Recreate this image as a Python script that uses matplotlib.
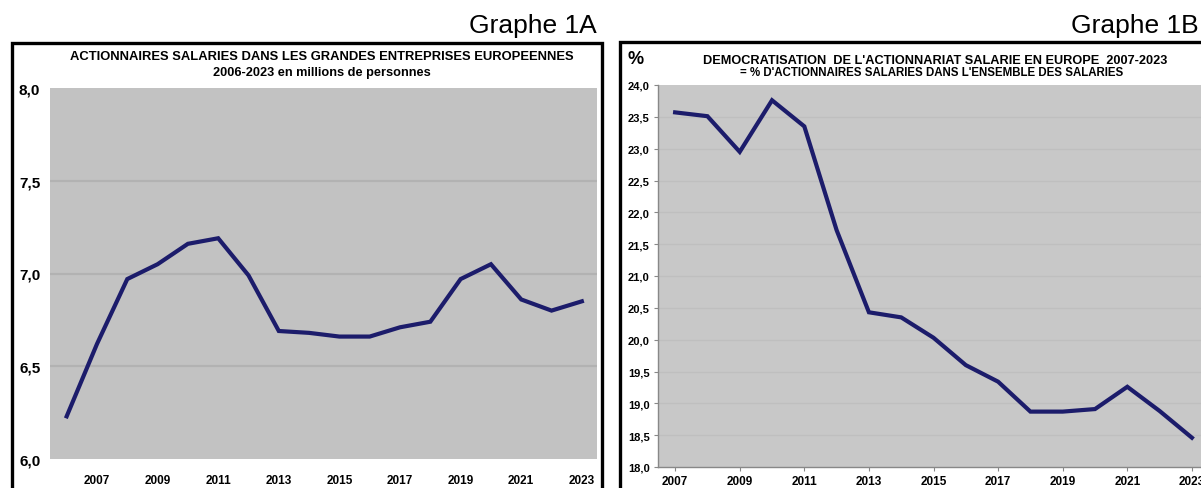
import matplotlib
matplotlib.use("Agg")
import matplotlib.pyplot as plt
from matplotlib.patches import Rectangle

# ---------------- data ----------------
years_a = [2006, 2007, 2008, 2009, 2010, 2011, 2012, 2013, 2014, 2015,
           2016, 2017, 2018, 2019, 2020, 2021, 2022, 2023]
values_a = [6.23, 6.62, 6.97, 7.05, 7.16, 7.19, 6.99, 6.69, 6.68, 6.66,
            6.66, 6.71, 6.74, 6.97, 7.05, 6.86, 6.80, 6.85]
xticks_a = [2007, 2009, 2011, 2013, 2015, 2017, 2019, 2021, 2023]
yticks_a = [6.0, 6.5, 7.0, 7.5, 8.0]
yticklabels_a = ["6,0", "6,5", "7,0", "7,5", "8,0"]
title_a = "ACTIONNAIRES SALARIES DANS LES GRANDES ENTREPRISES EUROPEENNES"
subtitle_a = "2006-2023 en millions de personnes"

years_b = [2007, 2008, 2009, 2010, 2011, 2012, 2013, 2014, 2015, 2016,
           2017, 2018, 2019, 2020, 2021, 2022, 2023]
values_b = [23.57, 23.51, 22.95, 23.76, 23.35, 21.72, 20.43, 20.35, 20.03, 19.60,
            19.34, 18.87, 18.87, 18.91, 19.26, 18.88, 18.46]
xticks_b = [2007, 2009, 2011, 2013, 2015, 2017, 2019, 2021, 2023]
yticks_b = [18.0, 18.5, 19.0, 19.5, 20.0, 20.5, 21.0, 21.5, 22.0, 22.5, 23.0, 23.5, 24.0]
yticklabels_b = ["18,0", "18,5", "19,0", "19,5", "20,0", "20,5", "21,0", "21,5",
                 "22,0", "22,5", "23,0", "23,5", "24,0"]
title_b = "DEMOCRATISATION  DE L'ACTIONNARIAT SALARIE EN EUROPE  2007-2023"
subtitle_b = "= % D'ACTIONNAIRES SALARIES DANS L'ENSEMBLE DES SALARIES"

# ---------------- layout ----------------
W, H = 1201, 489
fig = plt.figure(figsize=(W / 100, H / 100), dpi=100)
fig.patch.set_facecolor("white")

SANS = ["Liberation Sans", "DejaVu Sans"]
LINE = "#1c1c6b"


def rect(x0, y0, x1, y1):
    return [x0 / W, 1 - y1 / H, (x1 - x0) / W, (y1 - y0) / H]


def fx(x):
    return x / W


def fy(y):
    return 1 - y / H


# frames
for (x0, y0, x1, y1) in [(12, 44, 602, 500), (620, 43, 1215, 500)]:
    fig.patches.append(Rectangle((fx(x0), fy(y1)), fx(x1) - fx(x0), fy(y0) - fy(y1),
                                 transform=fig.transFigure, fill=False,
                                 edgecolor="black", linewidth=2.4, zorder=0))

fig.text(fx(597), fy(26), "Graphe 1A", ha="right", va="center", fontsize=19, family=SANS)
fig.text(fx(1199), fy(26), "Graphe 1B", ha="right", va="center", fontsize=19, family=SANS)

# ---------------- chart A ----------------
axA = fig.add_axes(rect(50, 89, 597, 460))
axA.set_facecolor("#c2c2c2")
axA.set_xlim(2005.45, 2023.5)
axA.set_ylim(6.0, 8.0)
for v in yticks_a[1:-1]:
    axA.axhline(v, color="#b2b2b2", lw=1.6, zorder=1)
axA.plot(years_a, values_a, color=LINE, lw=3.0, solid_joinstyle="miter", zorder=3)
axA.set_yticks(yticks_a)
axA.set_yticklabels(yticklabels_a, fontsize=11, fontweight="bold", family=SANS)
axA.set_xticks(xticks_a)
axA.set_xticklabels([str(t) for t in xticks_a], fontsize=8.5, fontweight="bold", family=SANS)
axA.tick_params(axis="y", length=0, pad=7)
axA.tick_params(axis="x", length=0, pad=11)
for s in axA.spines.values():
    s.set_visible(False)

fig.text(fx(322), fy(57), title_a, ha="center", va="center", fontsize=9.4,
         fontweight="bold", family=SANS)
fig.text(fx(322), fy(73), subtitle_a, ha="center", va="center", fontsize=9.2,
         fontweight="bold", family=SANS)

# ---------------- chart B ----------------
axB = fig.add_axes(rect(658, 86, 1210, 468))
axB.set_facecolor("#c8c8c8")
axB.set_xlim(2006.47, 2023.56)
axB.set_ylim(18.0, 24.0)
for v in yticks_b[1:-1]:
    axB.axhline(v, color="#bfbfbf", lw=1.0, zorder=1)
axB.plot(years_b, values_b, color=LINE, lw=3.0, solid_joinstyle="miter", zorder=3)
axB.set_yticks(yticks_b)
axB.set_yticklabels(yticklabels_b, fontsize=8, fontweight="bold", family=SANS)
axB.set_xticks(xticks_b)
axB.set_xticklabels([str(t) for t in xticks_b], fontsize=8.5, fontweight="bold", family=SANS)
axB.tick_params(axis="y", length=3, width=0.8, color="#888888", pad=3)
axB.tick_params(axis="x", length=3, width=0.8, color="#888888", pad=3)
for k in ["top", "right"]:
    axB.spines[k].set_visible(False)
for k in ["left", "bottom"]:
    axB.spines[k].set_color("#888888")
    axB.spines[k].set_linewidth(1.0)

fig.text(fx(636), fy(60), "%", ha="center", va="center", fontsize=13,
         fontweight="bold", family=SANS)
fig.text(fx(935), fy(61), title_b, ha="center", va="center", fontsize=9.2,
         fontweight="bold", family=SANS)
fig.text(fx(932), fy(73), subtitle_b, ha="center", va="center", fontsize=8.3,
         fontweight="bold", family=SANS)

fig.savefig("out.png", dpi=100)
